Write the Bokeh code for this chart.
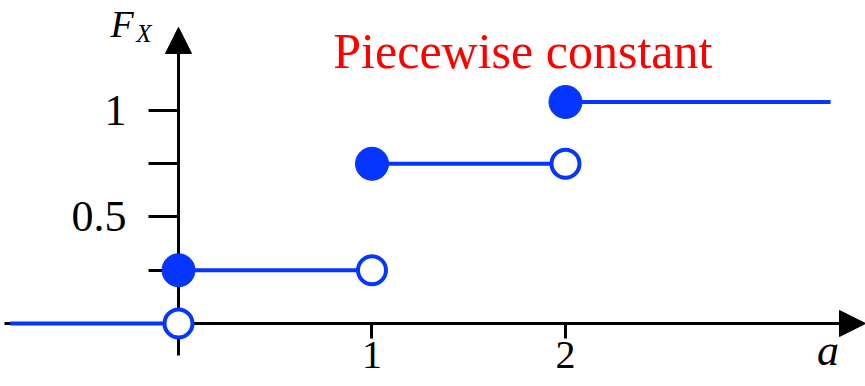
from bokeh.plotting import figure
from bokeh.models import (Range1d, LinearAxis, FixedTicker, Arrow, NormalHead,
                          ColumnDataSource, Label)
from bokeh.embed import file_html
from bokeh.resources import INLINE

# Cumulative distribution of a discrete variable: one flat step per interval
step_start = [-0.87, 0, 1, 2]
step_end = [0, 1, 2, 3.37]
step_value = [0, 0.25, 0.75, 1.04]

# Closed (included) end points and open (excluded) end points of the steps
closed_x = [0, 1, 2]
closed_y = [0.25, 0.75, 1.04]
open_x = [0, 1, 2]
open_y = [0, 0.25, 0.75]

x_ticks = [1, 2]
y_ticks = [0.25, 0.5, 0.75, 1]
y_tick_labels = {0.25: "", 0.5: "0.5", 0.75: "", 1: "1"}

BLUE = "#0535FF"
SERIF = "Liberation Serif"

p = figure(width=865, height=386, output_backend="svg", toolbar_location=None,
           x_range=Range1d(-0.9199, 3.5504), y_range=Range1d(-0.2958, 1.5164),
           x_axis_type=None, y_axis_type=None, min_border=0,
           outline_line_color=None)

# Axes crossing at the origin
xaxis = LinearAxis(fixed_location=0, ticker=FixedTicker(ticks=x_ticks),
                   bounds=(-0.9, 3.45), axis_line_width=3, major_tick_line_width=3,
                   major_tick_in=0, major_tick_out=15, minor_tick_out=0, minor_tick_in=0,
                   major_label_standoff=4, major_label_text_font=SERIF,
                   major_label_text_font_size="40px", major_label_text_color="black")
yaxis = LinearAxis(fixed_location=0, ticker=FixedTicker(ticks=y_ticks),
                   bounds=(-0.15, 1.3), axis_line_width=3, major_tick_line_width=3,
                   major_tick_in=0, major_tick_out=30, minor_tick_out=0, minor_tick_in=0,
                   major_label_standoff=22, major_label_text_font=SERIF,
                   major_label_text_font_size="44px", major_label_text_color="black",
                   major_label_overrides=y_tick_labels, major_label_orientation="horizontal")
p.add_layout(xaxis, "below")
p.add_layout(yaxis, "left")

p.add_layout(Arrow(x_start=3.3, y_start=0, x_end=3.5504, y_end=0, line_alpha=0,
                   end=NormalHead(size=26, fill_color="black", line_color="black", line_width=1)))
p.add_layout(Arrow(x_start=0, y_start=1.2, x_end=0, y_end=1.39, line_alpha=0,
                   end=NormalHead(size=26, fill_color="black", line_color="black", line_width=1)))

steps = ColumnDataSource(dict(x0=step_start, x1=step_end, y=step_value))
r = p.segment(x0="x0", y0="y", x1="x1", y1="y", source=steps, line_color=BLUE, line_width=4)
r.level = "overlay"

r = p.scatter(closed_x, closed_y, size=33, fill_color=BLUE, line_color=BLUE, line_width=1)
r.level = "overlay"
r = p.scatter(open_x, open_y, size=28, fill_color="white", line_color=BLUE, line_width=4)
r.level = "overlay"

p.add_layout(Label(x=0.80, y=1.281, text="Piecewise constant", text_color="red",
                   text_font=SERIF, text_font_size="50px", text_baseline="alphabetic"))
p.add_layout(Label(x=-0.352, y=1.408, text="F", text_color="black", text_font=SERIF,
                   text_font_style="italic", text_font_size="38px", text_baseline="alphabetic"))
p.add_layout(Label(x=-0.218, y=1.361, text="X", text_color="black", text_font=SERIF,
                   text_font_style="italic", text_font_size="25px", text_baseline="alphabetic"))
p.add_layout(Label(x=3.30, y=-0.128, text="a", text_color="black", text_font=SERIF,
                   text_font_style="italic", text_font_size="44px", text_baseline="alphabetic"))

open("out.html", "w").write(file_html(p, INLINE))
